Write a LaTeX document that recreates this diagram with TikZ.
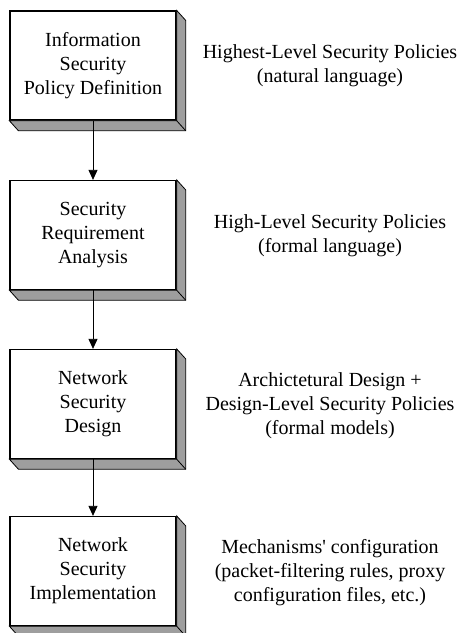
\documentclass[tikz,border=0pt]{standalone}
\usepackage{fontspec}
\setmainfont{Liberation Serif}
\usetikzlibrary{calc, arrows.meta}

\begin{document}
\begin{tikzpicture}[x=1pt, y=-1pt,
    stage/.style={draw=black, line width=1.3pt, fill=white, minimum width=166pt, minimum height=109pt,
        align=center, inner sep=0pt, font=\fontsize{20}{24}\selectfont},
    level/.style={align=center, font=\fontsize{20}{24}\selectfont},
    side/.style={fill=black!38, draw=black, line width=0.8pt, line join=miter},
    flow/.style={-{Triangle[length=10pt, width=9pt]}, line width=0.8pt}]
            \useasboundingbox (0,0) rectangle (462,633);
            \node[stage] (def)  at (93,65.5) {Information\\Security\\Policy Definition};
            \node[stage] (req)  at (93,235)  {Security\\Requirement\\Analysis};
            \node[stage] (des)  at (93,404)  {Network\\Security\\Design};
            \node[stage] (impl) at (93,571)  {Network\\Security\\Implementation};
            % 3d sides
            \foreach \n in {def, req, des, impl} {
                \filldraw[side] (\n.north east) -- ++(9,10) |- ($(\n.south west)+(9,10)$)
                    -- (\n.south west) -- (\n.south east) -- cycle;
                \draw[line width=0.8pt] (\n.south east) -- ++(9,10);
            }
            \draw[flow] (def) -- (req);
            \draw[flow] (req) -- (des);
            \draw[flow] (des) -- (impl);
            \node[level] (defl)  at (330,66)  {Highest-Level Security Policies\\(natural language)};
            \node[level] (reql)  at (330,236) {High-Level Security Policies\\(formal language)};
            \node[level] (desl)  at (330,406) {Archictetural Design +\\Design-Level Security Policies\\(formal models)};
            \node[level] (impll) at (330,573) {Mechanisms\textquotesingle{} configuration\\(packet-filtering rules, proxy\\configuration files, etc.)};
        \end{tikzpicture}
\end{document}
